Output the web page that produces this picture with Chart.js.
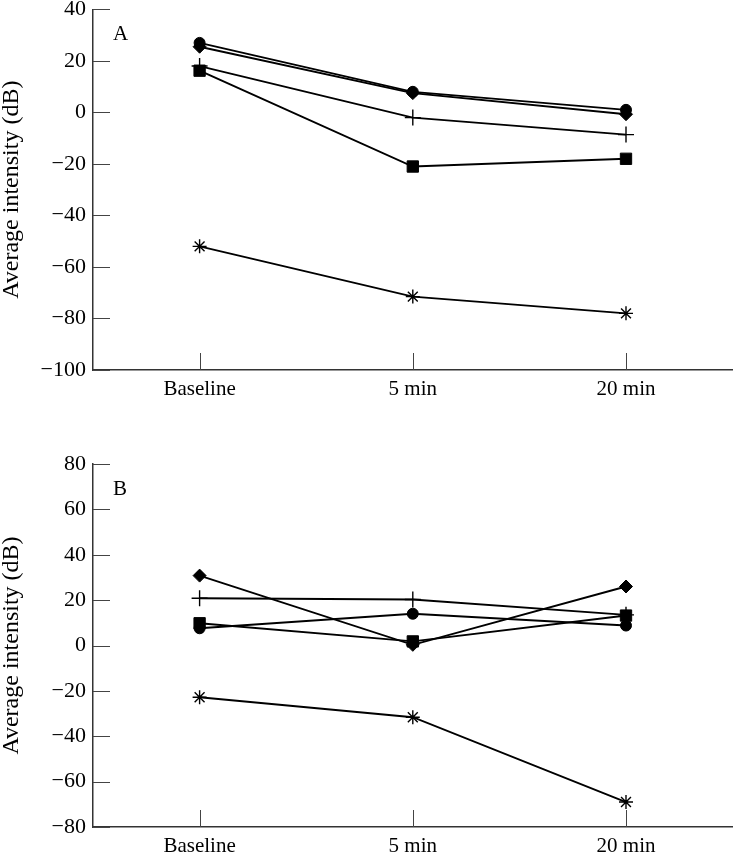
<!DOCTYPE html>
<html>
<head>
<meta charset="utf-8">
<script src="https://cdn.jsdelivr.net/npm/chart.js@4/dist/chart.umd.min.js"></script>
<style>
  body { margin: 0; background: #fff; overflow: hidden; }
  canvas { position: absolute; left: 0; }
  #chartA { top: 0; }
  #chartB { top: 430px; }
</style>
</head>
<body>
<canvas id="chartA" width="742" height="430"></canvas>
<canvas id="chartB" width="742" height="423"></canvas>
<script>
// categories (x axis)
const timePoints = ["Baseline", "5 min", "20 min"];

// panel A values (dB)
const aCircle = [27, 8, 1];
const aDiamond = [25.5, 7.5, -0.7];
const aCross = [18, -2, -8.6];
const aSquare = [16.2, -21, -18];
const aStar = [-52, -71.5, -78];

// panel B values (dB)
const bDiamond = [30.8, 0.3, 26];
const bCross = [20.8, 20.3, 13.5];
const bCircle = [7.6, 14, 8.8];
const bSquare = [9.8, 1.8, 13.2];
const bStar = [-22.8, -31.6, -69];

const fontFam = "'Liberation Serif', 'Times New Roman', serif";

// petits traits de graduation tournés vers l'intérieur + lettre du panneau
const innerTicks = {
  id: "innerTicks",
  beforeDatasetsDraw(chart) {
    const ctx = chart.ctx;
    const area = chart.chartArea;
    const xs = chart.scales.x;
    const ys = chart.scales.y;
    ctx.save();
    ctx.strokeStyle = "#444";
    ctx.lineWidth = 1;
    ys.ticks.forEach((t, i) => {
      const py = Math.round(ys.getPixelForTick(i)) + 0.5;
      ctx.beginPath();
      ctx.moveTo(area.left, py);
      ctx.lineTo(area.left + 17, py);
      ctx.stroke();
    });
    xs.ticks.forEach((t, i) => {
      const px = Math.round(xs.getPixelForTick(i)) + 0.5;
      ctx.beginPath();
      ctx.moveTo(px, area.bottom);
      ctx.lineTo(px, area.bottom - 17);
      ctx.stroke();
    });
    const letter = chart.options.plugins.innerTicks.letter;
    ctx.fillStyle = "#000";
    ctx.font = "21px " + fontFam;
    ctx.textBaseline = "alphabetic";
    ctx.textAlign = "left";
    ctx.fillText(letter, area.left + 20, area.top + 31);
    ctx.restore();
  },
};

function series(data, style, radius, filled) {
  return {
    data: data,
    borderColor: "#000",
    backgroundColor: "#000",
    borderWidth: 1.9,
    pointStyle: style,
    pointRadius: radius,
    pointBorderWidth: filled ? 1 : 1.4,
    pointBackgroundColor: "#000",
    pointBorderColor: "#000",
    tension: 0,
  };
}

function makeChart(canvasId, letter, datasets, yMin, yMax, padTop, xHeight) {
  new Chart(document.getElementById(canvasId), {
    type: "line",
    data: { labels: timePoints, datasets: datasets },
    plugins: [innerTicks],
    options: {
      responsive: false,
      animation: false,
      layout: { padding: { top: padTop, left: 0, right: 0, bottom: 0 } },
      plugins: {
        legend: { display: false },
        tooltip: { enabled: false },
        innerTicks: { letter: letter },
      },
      scales: {
        x: {
          offset: true,
          grid: { drawOnChartArea: false, drawTicks: false },
          border: { display: true, color: "#333", width: 1.5 },
          ticks: {
            color: "#000",
            padding: 7,
            maxRotation: 0,
            font: { family: fontFam, size: 21 },
          },
          afterFit: (s) => {
            s.height = xHeight;
            s.paddingLeft = 0;
            s.paddingRight = 0;
          },
        },
        y: {
          min: yMin,
          max: yMax,
          grid: { drawOnChartArea: false, drawTicks: false },
          border: { display: true, color: "#333", width: 1.5 },
          ticks: {
            stepSize: 20,
            color: "#000",
            padding: 7,
            font: { family: fontFam, size: 22 },
            callback: (v) => String(v).replace("-", "\u2212"),
          },
          title: {
            display: true,
            text: "Average intensity (dB)",
            color: "#000",
            padding: 0,
            font: { family: fontFam, size: 24, lineHeight: 1 },
          },
          afterFit: (s) => {
            s.width = 93;
            s.paddingTop = 0;
            s.paddingBottom = 0;
          },
        },
      },
    },
  });
}

makeChart("chartA", "A", [
  series(aCircle, "circle", 5.5, true),
  series(aDiamond, "rectRot", 6.5, true),
  series(aCross, "cross", 8, false),
  series(aSquare, "rect", 8, true),
  series(aStar, "star", 7, false),
], -100, 40, 8, 60);

makeChart("chartB", "B", [
  series(bDiamond, "rectRot", 6.5, true),
  series(bCross, "cross", 8, false),
  series(bCircle, "circle", 5.5, true),
  series(bSquare, "rect", 8, true),
  series(bStar, "star", 7, false),
], -80, 80, 34, 26);
</script>
</body>
</html>
